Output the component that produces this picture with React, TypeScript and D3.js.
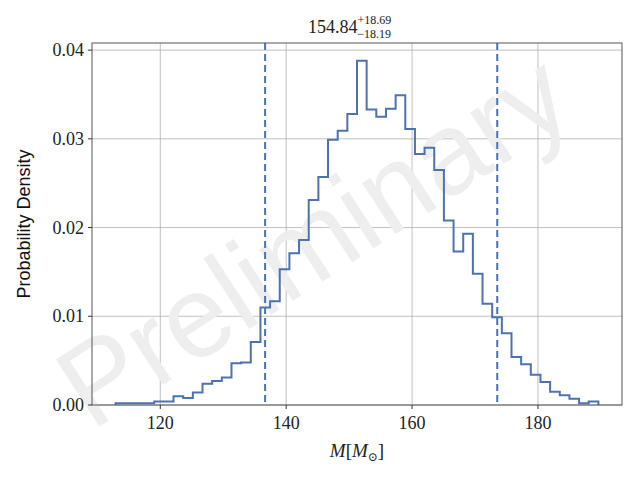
import React from "react";
import * as d3 from "d3";

const binStart = 112.9;
const binEnd = 189.6;
const densities = [
  0.0002, 0.0002, 0.0002, 0.0002, 0.0004, 0.0004, 0.001, 0.0008, 0.0014, 0.0024,
  0.0027, 0.0031, 0.0047, 0.0048, 0.0071, 0.011, 0.0117, 0.0153, 0.0171, 0.0186,
  0.0231, 0.0257, 0.0299, 0.0309, 0.0328, 0.0388, 0.0333, 0.0325, 0.0334, 0.0349,
  0.0311, 0.0283, 0.029, 0.0265, 0.0208, 0.0173, 0.0193, 0.0148, 0.0114, 0.0099,
  0.0081, 0.0054, 0.0046, 0.0034, 0.0026, 0.0015, 0.0011, 0.0007, 0.0002, 0.0004,
];
const quantiles = [136.65, 173.53];
const xTicks = [120, 140, 160, 180];
const yTicks = [0, 0.01, 0.02, 0.03, 0.04];

const W = 640, H = 480;
const L = 92, R = 622, T = 43, B = 405;
const serif = "'Liberation Serif', 'DejaVu Serif', serif";

export default function App() {
  const x = d3.scaleLinear().domain([109.15, 193.35]).range([L, R]);
  const y = d3.scaleLinear().domain([0, 0.0408]).range([B, T]);
  const n = densities.length;
  const w = (binEnd - binStart) / n;
  const pts: [number, number][] = [[binStart, 0]];
  densities.forEach((d, i) => {
    pts.push([binStart + i * w, d]);
    pts.push([binStart + (i + 1) * w, d]);
  });
  pts.push([binEnd, 0]);
  const line = d3.line<[number, number]>().x((p) => x(p[0])).y((p) => y(p[1]));
  return (
    <svg width={W} height={H} style={{ position: "absolute", left: 0, top: 0 }}>
      <rect width={W} height={H} fill="#fff" />
      {xTicks.map((t) => (
        <line key={"gx" + t} x1={x(t)} x2={x(t)} y1={T} y2={B} stroke="#b0b0b0" strokeWidth={0.8} />
      ))}
      {yTicks.map((t) => (
        <line key={"gy" + t} x1={L} x2={R} y1={y(t)} y2={y(t)} stroke="#b0b0b0" strokeWidth={0.8} />
      ))}
      <text
        x={318}
        y={248}
        transform="rotate(-33 318 248)"
        textAnchor="middle"
        dominantBaseline="middle"
        fontFamily="'Liberation Sans', sans-serif"
        fontSize={116}
        fill="#eeeeee"
      >
        Preliminary
      </text>
      <path d={line(pts) || ""} fill="none" stroke="#4c72b0" strokeWidth={2} />
      {quantiles.map((q) => (
        <line key={q} x1={x(q)} x2={x(q)} y1={T} y2={B} stroke="#4c72b0" strokeWidth={2} strokeDasharray="7,4" />
      ))}
      <rect x={L} y={T} width={R - L} height={B - T} fill="none" stroke="#555" strokeWidth={1} />
      {xTicks.map((t) => (
        <g key={"xt" + t}>
          <line x1={x(t)} x2={x(t)} y1={B} y2={B + 4} stroke="#333" />
          <text x={x(t)} y={B + 24} textAnchor="middle" fontFamily={serif} fontSize={18} fill="#222">{t}</text>
        </g>
      ))}
      {yTicks.map((t) => (
        <g key={"yt" + t}>
          <line x1={L - 4} x2={L} y1={y(t)} y2={y(t)} stroke="#333" />
          <text x={L - 8} y={y(t) + 6} textAnchor="end" fontFamily={serif} fontSize={18} fill="#222">{t.toFixed(2)}</text>
        </g>
      ))}
      <text x={(L + R) / 2} y={457} textAnchor="middle" fontFamily={serif} fontSize={19} fill="#222">
        <tspan fontStyle="italic">M</tspan>[<tspan fontStyle="italic">M</tspan><tspan fontSize={12} dy={4}>⊙</tspan><tspan dy={-4}>]</tspan>
      </text>
      <text x={30} y={(T + B) / 2} transform={`rotate(-90 30 ${(T + B) / 2})`} textAnchor="middle" fontFamily="'Liberation Sans', Arial, sans-serif" fontSize={18} fill="#111">
        Probability Density
      </text>
      <text x={308} y={33} fontFamily={serif} fontSize={18} fill="#222">
        154.84
        <tspan fontSize={12} dy={-9}>+18.69</tspan>
        <tspan fontSize={12} dx={-34} dy={14}>−18.19</tspan>
      </text>
    </svg>
  );
}
